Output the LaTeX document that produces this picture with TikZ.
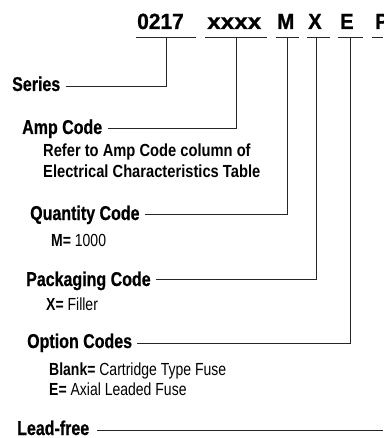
\documentclass[tikz,border=0pt]{standalone}
\usepackage{fontspec}
\setmainfont{Liberation Sans}[FakeStretch=0.8]
\newfontfamily\labfont{Liberation Sans}[FakeStretch=0.8,BoldFeatures={FakeBold=0.6}]
\newfontfamily\subbold{Liberation Sans}[FakeStretch=0.84]
\newfontfamily\headfont{Liberation Sans}[FakeStretch=0.85,BoldFeatures={FakeBold=0.8}]
\begin{document}
\begin{tikzpicture}[x=1pt,y=-1pt,
  lab/.style={inner sep=0pt,anchor=base west,font=\labfont\bfseries\fontsize{20}{20}\selectfont},
  sub/.style={inner sep=0pt,anchor=base west,font=\fontsize{17.5}{17.5}\selectfont},
  subb/.style={inner sep=0pt,anchor=base west,font=\subbold\bfseries\fontsize{17.5}{17.5}\selectfont},
  head/.style={inner sep=0pt,anchor=base west,font=\headfont\bfseries\fontsize{22}{22}\selectfont},
  uline/.style={line width=0.9pt,black!85},
  conn/.style={line width=0.9pt,black!85}]
\useasboundingbox (0,0) rectangle (383,438);
% header
\node[head] (h1) at (137,29) {\scalebox{1.12}[1]{0217}};
\node[head] (h2) at (207,29) {\scalebox{1.3}[1]{xxxx}};
\node[head] (h3) at (277,29) {\scalebox{1.1}[1]{M}};
\node[head] (h4) at (308,29) {\scalebox{1.08}[1]{X}};
\node[head] (h5) at (340,29) {\scalebox{1.08}[1]{E}};
\node[head] (h6) at (375,29) {\scalebox{1.08}[1]{P}};
% underlines
\draw[uline] (136,37) -- (196,37) coordinate[midway] (u1);
\draw[uline] (205,37) -- (267,37) coordinate[pos=0.5] (u2);
\draw[uline] (276,37) -- (299,37) coordinate[pos=0.5] (u3);
\draw[uline] (307,37) -- (330,37);
\coordinate (u4) at (316,37);
\draw[uline] (338,37) -- (363,37) coordinate[pos=0.5] (u5);
\draw[uline] (372,37) -- (383,37);
\coordinate (edge) at (383,432);
% labels
\node[lab] (series) at (12,91) {Series};
\node[lab] (amp) at (22,134) {Amp Code};
\node[subb] (ref1) at (43,157) {Refer to Amp Code column of};
\node[subb] (ref2) at (43,178) {Electrical Characteristics Table};
\node[lab] (qty) at (30,220) {Quantity Code};
\node[sub] (mq) at (51,246) {\textbf{M=} 1000};
\node[lab] (pack) at (26,286) {Packaging Code};
\node[sub] (xf) at (46,310) {\textbf{X=} Filler};
\node[lab] (opt) at (27,348) {Option Codes};
\node[sub] (blank) at (49,375) {\textbf{Blank=} Cartridge Type Fuse};
\node[sub] (ax) at (49,395) {\textbf{E=} Axial Leaded Fuse};
\node[lab] (lead) at (17,435) {Lead-free};
% connectors
\draw[conn] ([xshift=6pt,yshift=5pt]series.base east) -| (u1);
\draw[conn] ([xshift=6pt,yshift=6pt]amp.base east) -| (u2);
\draw[conn] ([xshift=5pt,yshift=6pt]qty.base east) -| (u3);
\draw[conn] ([xshift=5pt,yshift=7pt]pack.base east) -| (u4);
\draw[conn] ([xshift=5pt,yshift=5pt]opt.base east) -| (u5);
\draw[conn] ([xshift=8pt,yshift=5pt]lead.base east) -- ([yshift=5pt]lead.base east -| edge);
\end{tikzpicture}
\end{document}
